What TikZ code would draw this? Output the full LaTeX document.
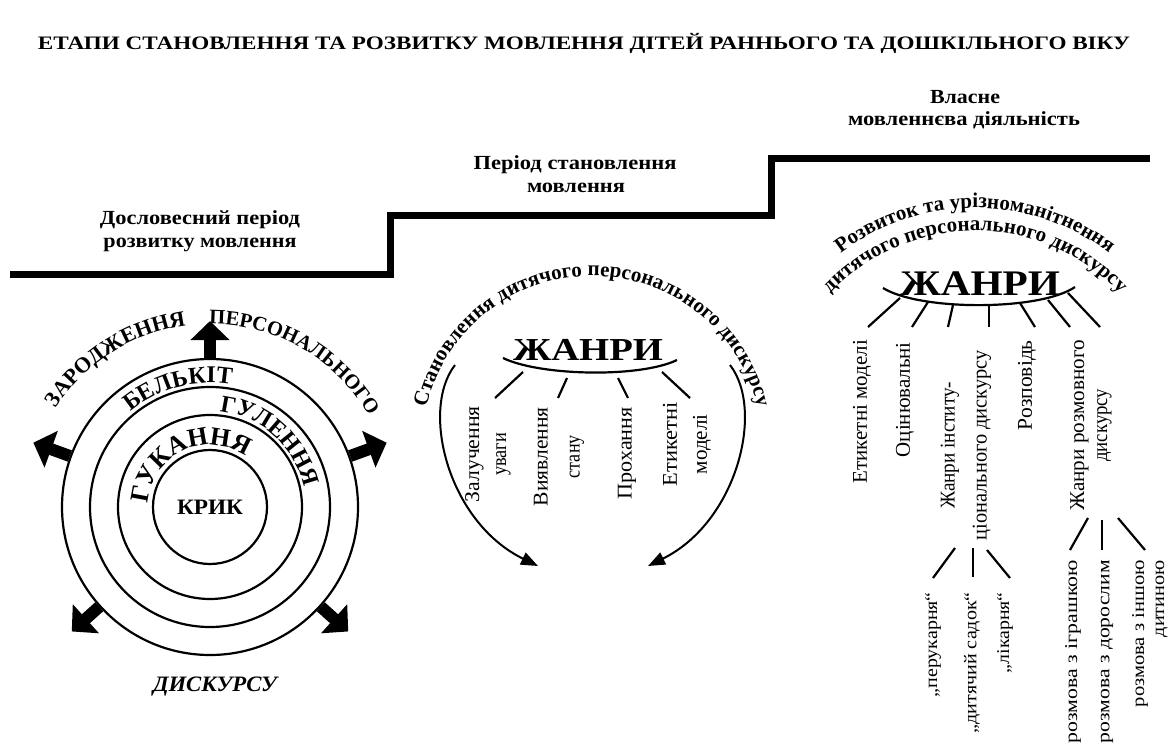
\documentclass[tikz,border=0pt]{standalone}
\usepackage{fontspec}
\setmainfont{Liberation Serif}
\usetikzlibrary{arrows.meta,decorations.text}
\newcommand{\hfit}[2]{\resizebox{#1pt}{\height}{#2}}
\newcommand{\fzZ}{\fontsize{22}{22}\selectfont\bfseries}
\newcommand{\fzP}{\fontsize{20.5}{20.5}\selectfont\bfseries}
\newcommand{\fzB}{\fontsize{24}{24}\selectfont\bfseries}
\newcommand{\fzG}{\fontsize{24}{24}\selectfont\bfseries}
\newcommand{\fzK}{\fontsize{26}{26}\selectfont\bfseries}
\newcommand{\fzM}{\fontsize{21}{21}\selectfont\bfseries}
\newcommand{\fzR}{\fontsize{21}{21}\selectfont\bfseries}
\begin{document}
\begin{tikzpicture}[x=1pt,y=1pt]
\tikzset{
  ttl/.style={font=\fontsize{19}{19}\selectfont\bfseries, inner sep=0pt, anchor=base},
  stl/.style={font=\fontsize{20}{20}\selectfont\bfseries, inner sep=0pt, anchor=base},
  glab/.style={font=\fontsize{21}{#1}\selectfont, rotate=90, anchor=east, align=center, inner sep=0pt},
  glab/.default=30,
  sublab/.style={font=\fontsize{18}{#1}\selectfont, rotate=90, anchor=east, align=right, inner sep=0pt},
  sublab/.default=20,
  spoke/.style={line width=2.2pt},
  ring/.style={line width=2.2pt, circle, draw, inner sep=0pt},
  bigarrow/.style={line width=12pt, -{Triangle[length=19pt,width=38pt]}},
  curvarrow/.style={line width=2pt, -{Triangle[length=17pt,width=13pt]}},
  stair/.style={line width=7pt},
  zh/.style={font=\fontsize{32}{32}\selectfont\bfseries, inner sep=0pt, anchor=base},
  arctext/.style={decorate, decoration={text along path, text align=center, text={#1}}}
}
\useasboundingbox (0,0) rectangle (1168,-747);

% title
\node[ttl] (title) at (584,-49) {\hfit{1092}{ЕТАПИ СТАНОВЛЕННЯ ТА РОЗВИТКУ МОВЛЕННЯ ДІТЕЙ РАННЬОГО ТА ДОШКІЛЬНОГО ВІКУ}};

% staircase
\coordinate (st0) at (10,-274);
\coordinate (st1) at (390,-274);
\coordinate (st2) at (390,-215);
\coordinate (st3) at (771,-215);
\coordinate (st4) at (771,-158);
\coordinate (st5) at (1150,-158);
\draw[stair] (st0) -- (st1) -- (st2) -- (st3) -- (st4) -- (st5);

% step labels
\node[stl] (s1a) at (200,-224) {\hfit{200}{Дословесний період}};
\node[stl] (s1b) at (200,-247) {\hfit{193}{розвитку мовлення}};
\node[stl] (s2a) at (575,-169) {\hfit{203}{Період становлення}};
\node[stl] (s2b) at (576,-192) {\hfit{98}{мовлення}};
\node[stl] (s3a) at (965,-103) {\hfit{70}{Власне}};
\node[stl] (s3b) at (964,-125) {\hfit{232}{мовленнєва діяльність}};

% ---------- left: circles ----------
\coordinate (C) at (210,-507);
\node[ring, minimum size=296pt] (c4) at (C) {};
\node[ring, minimum size=240pt] (c3) at (C) {};
\node[ring, minimum size=184pt] (c2) at (C) {};
\node[ring, minimum size=114pt, font=\fontsize{22}{22}\selectfont\bfseries] (krik) at (C) {\hfit{66}{КРИК}};

\draw[bigarrow] (c4.90) -- ([shift={(90:186)}]C);
\draw[bigarrow] (c4.160) -- ([shift={(160:188)}]C);
\draw[bigarrow] (c4.20) -- ([shift={(20:188)}]C);
\draw[bigarrow] (c4.222) -- ([shift={(222:186)}]C);
\draw[bigarrow] (c4.318) -- ([shift={(318:186)}]C);

\path[arctext={|\fzZ|ЗАРОДЖЕННЯ}] ([shift={(200:183)}]C) arc (200:45:183);
\path[arctext={|\fzP|ПЕРСОНАЛЬНОГО}] ([shift={(140:183)}]C) arc (140:-20:183);
\path[arctext={|\fzB|БЕЛЬКІТ}] ([shift={(170:124)}]C) arc (170:40:124);
\path[arctext={|\fzG|ГУЛЕННЯ}] ([shift={(130:96)}]C) arc (130:-34:96);
\path[arctext={|\fzK|ГУКАННЯ}] ([shift={(225:62)}]C) arc (225:7:62);
\node[font=\fontsize{22}{22}\selectfont\bfseries\itshape, anchor=base, inner sep=0pt] (disk) at (215,-691) {\hfit{124}{ДИСКУРСУ}};

% ---------- middle ----------
\coordinate (M) at (592,-446);
\path[arctext={|\fzM|Становлення дитячого персонального дискурсу}] ([shift={(185:170)}]M) arc (185:-5:170);
\node[zh] (zh1) at (588,-360) {\hfit{150}{ЖАНРИ}};
\coordinate (mc0) at (503,-358);
\coordinate (mc1) at (677,-360);
\draw[spoke] (mc0) .. controls (540,-376) and (640,-378) .. (mc1);

\node[glab=27] (g1) at (488,-406) {\hfit{96}{Залучення}\\\hfit{43}{уваги}};
\node[glab=32] (g2) at (559,-407) {\hfit{99}{Виявлення}\\\hfit{43}{стану}};
\node[glab] (g3) at (627,-407) {\hfit{92}{Прохання}};
\node[glab=30] (g4) at (687,-402) {\hfit{84}{Етикетні}\\\hfit{60}{моделі}};

\coordinate (ma1) at (523,-372); \coordinate (mb1) at (495,-398);
\coordinate (ma2) at (567,-378); \coordinate (mb2) at (558,-398);
\coordinate (ma3) at (618,-378); \coordinate (mb3) at (628,-398);
\coordinate (ma4) at (662,-372); \coordinate (mb4) at (690,-398);
\draw[spoke] (ma1) -- (mb1);
\draw[spoke] (ma2) -- (mb2);
\draw[spoke] (ma3) -- (mb3);
\draw[spoke] (ma4) -- (mb4);

\coordinate (la0) at (455,-365); \coordinate (la1) at (538,-566);
\coordinate (ra0) at (730,-365); \coordinate (ra1) at (648,-566);
\draw[curvarrow] (la0) .. controls (420,-410) and (448,-522) .. (la1);
\draw[curvarrow] (ra0) .. controls (765,-410) and (737,-522) .. (ra1);

% ---------- right ----------
\coordinate (R) at (975,-430);
\path[arctext={|\fzR|Розвиток та урізноманітнення}] ([shift={(170:222)}]R) arc (170:10:222);
\path[arctext={|\fzR|дитячого персонального дискурсу}] ([shift={(175:199)}]R) arc (175:5:199);
\node[zh, font=\fontsize{36}{36}\selectfont\bfseries] (zh2) at (980,-295) {\hfit{160}{ЖАНРИ}};
\coordinate (rc0) at (883,-288);
\coordinate (rc1) at (1075,-287);
\draw[spoke] (rc0) .. controls (920,-311) and (1040,-311) .. (rc1);

\coordinate (ra1x) at (900,-298);  \coordinate (rb1) at (868,-327);
\coordinate (ra2x) at (928,-302);  \coordinate (rb2) at (912,-327);
\coordinate (ra3x) at (953,-305);  \coordinate (rb3) at (948,-327);
\coordinate (ra4x) at (989,-305);  \coordinate (rb4) at (989,-327);
\coordinate (ra5x) at (1020,-303); \coordinate (rb5) at (1035,-327);
\coordinate (ra6x) at (1048,-300); \coordinate (rb6) at (1070,-327);
\coordinate (ra7x) at (1068,-293); \coordinate (rb7) at (1100,-327);
\foreach \i in {1,...,7} { \draw[spoke] (ra\i x) -- (rb\i); }

\node[glab] (r1) at (862,-340) {\hfit{143}{Етикетні моделі}};
\node[glab] (r2) at (905,-342) {\hfit{115}{Оцінювальні}};
\node[glab=32] (r3) at (966,-350) {\hfit{127}{Жанри інститу-}\\\hfit{190}{ціонального дискурсу}};
\node[glab] (r4) at (1027,-340) {\hfit{90}{Розповідь}};
\node[glab=23] (r5) at (1091,-340) {\hfit{170}{Жанри розмовного}\\\hfit{73}{дискурсу}};

% institutional sub-genres
\coordinate (ia1) at (955,-548); \coordinate (ib1) at (933,-578);
\coordinate (ia2) at (973,-548); \coordinate (ib2) at (973,-577);
\coordinate (ia3) at (987,-550); \coordinate (ib3) at (1010,-578);
\draw[spoke] (ia1) -- (ib1);
\draw[spoke] (ia2) -- (ib2);
\draw[spoke] (ia3) -- (ib3);
\node[sublab] (i1) at (933,-592) {\hfit{105}{„перукарня“}};
\node[sublab] (i2) at (972,-592) {\hfit{141}{„дитячий садок“}};
\node[sublab] (i3) at (1005,-592) {\hfit{81}{„лікарня“}};

% conversational sub-genres
\coordinate (ca1) at (1088,-518); \coordinate (cb1) at (1070,-550);
\coordinate (ca2) at (1102,-520); \coordinate (cb2) at (1102,-550);
\coordinate (ca3) at (1118,-518); \coordinate (cb3) at (1145,-550);
\draw[spoke] (ca1) -- (cb1);
\draw[spoke] (ca2) -- (cb2);
\draw[spoke] (ca3) -- (cb3);
\node[sublab] (v1) at (1073,-560) {\hfit{183}{розмова з іграшкою}};
\node[sublab] (v2) at (1107,-560) {\hfit{183}{розмова з дорослим}};
\node[sublab=20] (v3) at (1150,-560) {\hfit{147}{розмова з іншою}\\\hfit{77}{дитиною}};
\end{tikzpicture}
\end{document}
